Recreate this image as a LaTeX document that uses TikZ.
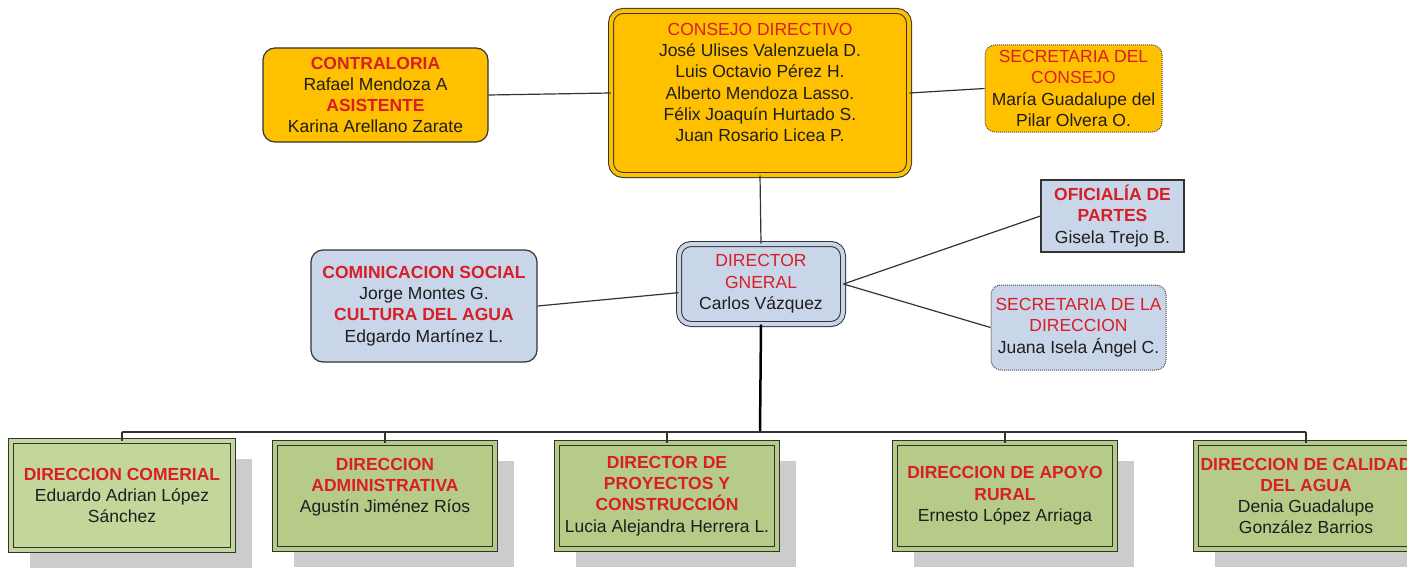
\documentclass[tikz,border=0pt]{standalone}
\usepackage{fontspec}
\setmainfont{Liberation Sans}
\usetikzlibrary{shadows}

\definecolor{amarillo}{HTML}{FFC000}
\definecolor{azulgris}{HTML}{C9D5E8}
\definecolor{verdeclaro}{HTML}{C4D79B}
\definecolor{verde}{HTML}{B6CB87}
\definecolor{rojo}{HTML}{D81E26}
\definecolor{texto}{HTML}{1E1E1E}
\definecolor{linea}{HTML}{333333}

\begin{document}
\begin{tikzpicture}[x=1pt,y=-1pt]
		\tikzstyle{caja}=[align=center,inner sep=0pt,text=texto,font=\fontsize{17.5}{21.3}\selectfont,draw=linea,line width=1pt]
		\tikzstyle{cajaconsejo}=[caja,fill=amarillo,double=amarillo,double distance=4pt,rounded corners=12pt]
		\tikzstyle{cajaamarilla}=[caja,fill=amarillo,rounded corners=12pt,line width=1.2pt]
		\tikzstyle{cajapuntos}=[caja,rounded corners=10pt,densely dotted,draw=black!70]
		\tikzstyle{cajadir}=[caja,fill=azulgris,double=azulgris,double distance=4pt,rounded corners=12pt]
		\tikzstyle{cajaazul}=[caja,fill=azulgris,line width=1.2pt]
		\tikzstyle{cajaverde}=[caja,fill=verde,double=verde,double distance=4pt,minimum width=220pt,minimum height=106pt,
			drop shadow={shadow xshift=19pt,shadow yshift=-18pt,fill=black!20,opacity=1}]
		\tikzstyle{conector}=[draw=linea,line width=1.2pt]

		\useasboundingbox (0,0) rectangle (1407,575);
		\clip (0,0) rectangle (1407,575);

		\node[cajaconsejo,minimum width=298pt,minimum height=164pt] (consejo) at (760,93)
			{\textcolor{rojo}{CONSEJO DIRECTIVO}\\José Ulises Valenzuela D.\\Luis Octavio Pérez H.\\Alberto Mendoza Lasso.\\Félix Joaquín Hurtado S.\\Juan Rosario Licea P.\\ \mbox{}};
		\node[cajaamarilla,minimum width=225pt,minimum height=94pt] (contraloria) at (375.5,95)
			{\textcolor{rojo}{\bfseries CONTRALORIA}\\Rafael Mendoza A\\\textcolor{rojo}{\bfseries ASISTENTE}\\Karina Arellano Zarate};
		\node[cajapuntos,fill=amarillo,minimum width=177pt,minimum height=87pt] (secconsejo) at (1073.5,88.5)
			{\textcolor{rojo}{SECRETARIA DEL}\\\textcolor{rojo}{CONSEJO}\\María Guadalupe del\\Pilar Olvera O.};

		\node[cajadir,minimum width=164pt,minimum height=80pt] (director) at (761,284)
			{\textcolor{rojo}{DIRECTOR}\\\textcolor{rojo}{GNERAL}\\Carlos Vázquez};
		\node[cajaazul,minimum width=143pt,minimum height=72pt] (oficialia) at (1112.5,216)
			{\textcolor{rojo}{\bfseries OFICIALÍA DE}\\\textcolor{rojo}{\bfseries PARTES}\\Gisela Trejo B.};
		\node[cajapuntos,fill=azulgris,minimum width=175pt,minimum height=85pt] (secdireccion) at (1078.5,327.5)
			{\textcolor{rojo}{SECRETARIA DE LA}\\\textcolor{rojo}{DIRECCION}\\Juana Isela Ángel C.};
		\node[cajaazul,rounded corners=12pt,minimum width=226pt,minimum height=112pt] (comunicacion) at (424,306)
			{\textcolor{rojo}{\bfseries COMINICACION SOCIAL}\\Jorge Montes G.\\\textcolor{rojo}{\bfseries CULTURA DEL AGUA}\\Edgardo Martínez L.};

		\node[cajaverde,fill=verdeclaro,double=verdeclaro,minimum width=222pt,minimum height=109pt] (comercial) at (122,495.5)
			{\textcolor{rojo}{\bfseries DIRECCION COMERIAL}\\Eduardo Adrian López\\Sánchez};
		\node[cajaverde] (administrativa) at (385,496)
			{\textcolor{rojo}{\bfseries DIRECCION}\\\textcolor{rojo}{\bfseries ADMINISTRATIVA}\\Agustín Jiménez Ríos\\ \mbox{}};
		\node[cajaverde] (proyectos) at (667,496)
			{\textcolor{rojo}{\bfseries DIRECTOR DE}\\\textcolor{rojo}{\bfseries PROYECTOS Y}\\\textcolor{rojo}{\bfseries CONSTRUCCIÓN}\\Lucia Alejandra Herrera L.};
		\node[cajaverde] (rural) at (1005,496)
			{\textcolor{rojo}{\bfseries DIRECCION DE APOYO}\\\textcolor{rojo}{\bfseries RURAL}\\Ernesto López Arriaga};
		\node[cajaverde] (calidad) at (1306,496)
			{\textcolor{rojo}{\bfseries DIRECCION DE CALIDAD}\\\textcolor{rojo}{\bfseries DEL AGUA}\\Denia Guadalupe\\González Barrios};

		\coordinate (bus) at (760,432);

		\draw[conector] (contraloria.east) -- (consejo.west);
		\draw[conector] (consejo.east) -- (secconsejo.west);
		\draw[conector] (consejo.south) -- (director.north);
		\draw[conector] (director.186) -- (comunicacion.east);
		\draw[conector] (director.east) -- (oficialia.west);
		\draw[conector] (director.east) -- (secdireccion.west);
		\draw[draw=black,line width=2.5pt] (director.south) -- (bus);
		\draw[draw=linea,line width=2pt] (comercial.north |- bus) -- (calidad.north |- bus);
		\foreach \b in {comercial,administrativa,proyectos,rural,calidad}
			\draw[conector] (\b.north |- bus) -- (\b.north);
	\end{tikzpicture}
\end{document}
